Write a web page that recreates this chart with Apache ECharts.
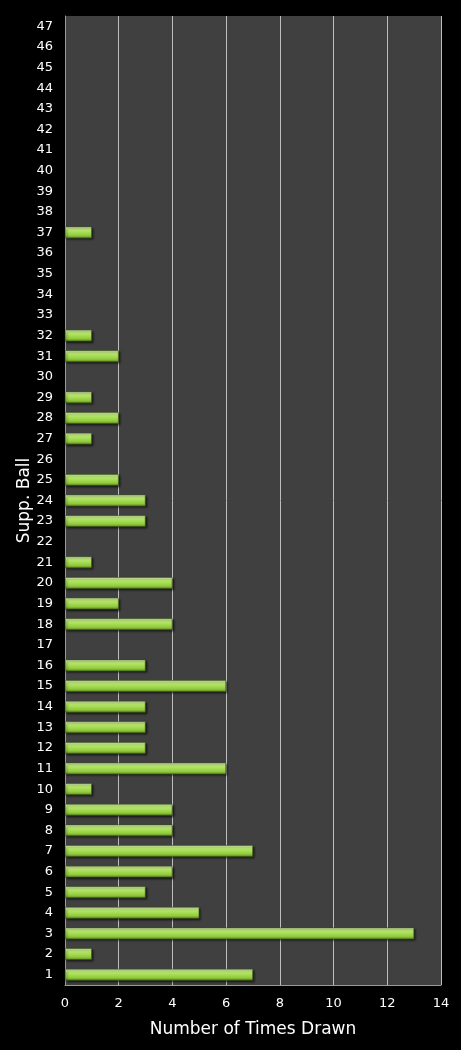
<!DOCTYPE html>
<html>
<head>
<meta charset="utf-8">
<script src="https://cdn.jsdelivr.net/npm/echarts@6/dist/echarts.min.js"></script>
<style>
  html, body { margin: 0; padding: 0; background: #000; }
  #main { width: 461px; height: 1050px; }
</style>
</head>
<body>
<div id="main"></div>
<script>
// 补充球 1..47
const balls = [];
for (let i = 1; i <= 47; i++) balls.push(String(i));

// 每个号码被抽中的次数
const timesDrawn = [
  7, 1, 13, 5, 3, 4, 7, 4, 4, 1,
  6, 3, 3, 3, 6, 3, 0, 4, 2, 4,
  1, 0, 3, 3, 2, 0, 1, 2, 1, 0,
  2, 1, 0, 0, 0, 0, 1, 0, 0, 0,
  0, 0, 0, 0, 0, 0, 0
];

const xTicks = [0, 2, 4, 6, 8, 10, 12, 14];

const chart = echarts.init(document.getElementById("main"));

const option = {
  backgroundColor: "#000",
  textStyle: { fontFamily: "DejaVu Sans" },
  grid: {
    left: 65, right: 20, top: 16, bottom: 65,
    show: true, backgroundColor: "#404040", borderWidth: 0
  },
  xAxis: {
    type: "value",
    min: xTicks[0],
    max: xTicks[xTicks.length - 1],
    interval: 2,
    name: "Number of Times Drawn",
    nameLocation: "middle",
    nameGap: 36,
    nameTextStyle: { color: "#fff", fontSize: 17 },
    axisLine: { show: true, lineStyle: { color: "#9a9a9a", width: 1 } },
    axisTick: { show: false },
    axisLabel: { color: "#fff", fontSize: 13, margin: 12 },
    splitLine: { show: true, lineStyle: { color: "#bdbdbd", width: 1 } }
  },
  yAxis: {
    type: "category",
    data: balls,
    name: "Supp. Ball",
    nameLocation: "middle",
    nameGap: 32,
    nameMoveOverlap: false,
    nameRotate: 90,
    nameTextStyle: { color: "#fff", fontSize: 17 },
    axisLine: { show: true, lineStyle: { color: "#9a9a9a", width: 1 } },
    axisTick: { show: false },
    axisLabel: { color: "#fff", fontSize: 13, margin: 12, interval: 0 },
    splitLine: { show: false }
  },
  series: [
    {
      type: "bar",
      // 0 次的号码不画柱子
      data: timesDrawn.map(v => (v === 0 ? "-" : v)),
      barCategoryGap: "44%",
      itemStyle: {
        color: new echarts.graphic.LinearGradient(0, 0, 0, 1, [
          { offset: 0, color: "#e2f8b8" },
          { offset: 0.3, color: "#b6e86a" },
          { offset: 0.75, color: "#92cc3c" },
          { offset: 1, color: "#5e8a22" }
        ]),
        borderColor: "#3c5a14",
        borderWidth: 0.6,
        shadowColor: "rgba(0,0,0,0.6)",
        shadowOffsetX: 1.5,
        shadowOffsetY: 1.5,
        shadowBlur: 2
      },
      animation: false
    }
  ]
};

option && chart.setOption(option);
</script>
</body>
</html>
